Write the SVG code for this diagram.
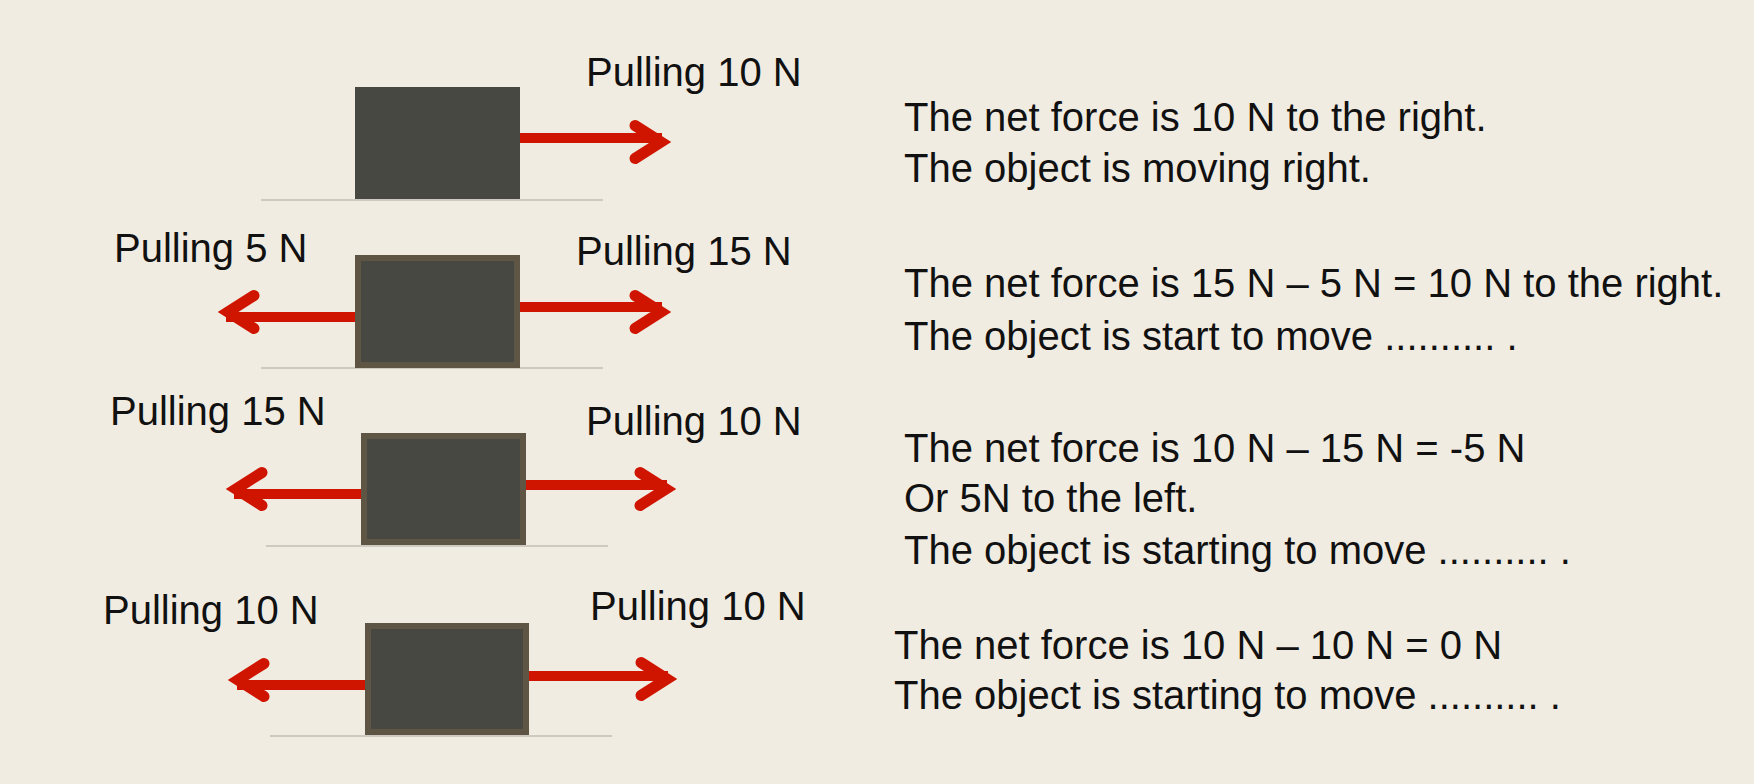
<svg xmlns="http://www.w3.org/2000/svg" width="1754" height="784" viewBox="0 0 1754 784">
<style>
.bg{fill:#f1ece2}
.lbl{font-family:"Liberation Sans",Arial,sans-serif;font-size:40px;fill:#111111}
.box{fill:#484843;stroke:#5e5545;stroke-width:6}
.box0{fill:#484843}
.ground{stroke:#cfcac1;stroke-width:2}
.shaft{stroke:#cf1500;stroke-width:10;fill:none}
.head{stroke:#cf1500;stroke-width:11;fill:none;stroke-linecap:round;stroke-linejoin:miter}
</style>
<defs>
<path id="hr" d="M-37,-16.5 L-11,0 L-37,16.5"/>
<path id="hl" d="M37,-16.5 L11,0 L37,16.5"/>
</defs>
<rect class="bg" x="0" y="0" width="1754" height="784"/>

<g id="grounds">
<line class="ground" x1="261" y1="200" x2="603" y2="200"/>
<line class="ground" x1="261" y1="368" x2="603" y2="368"/>
<line class="ground" x1="266" y1="546" x2="608" y2="546"/>
<line class="ground" x1="270" y1="736" x2="612" y2="736"/>
</g>

<g id="connectors">
<line class="shaft" x1="520" y1="138" x2="662" y2="138"/>
<use href="#hr" class="head" transform="translate(672,142)"/>

<line class="shaft" x1="520" y1="307" x2="662" y2="307"/>
<use href="#hr" class="head" transform="translate(672,312)"/>
<line class="shaft" x1="355" y1="317" x2="226" y2="317"/>
<use href="#hl" class="head" transform="translate(217,312)"/>

<line class="shaft" x1="526" y1="485" x2="667" y2="485"/>
<use href="#hr" class="head" transform="translate(677,489)"/>
<line class="shaft" x1="361" y1="494" x2="234" y2="494"/>
<use href="#hl" class="head" transform="translate(225,489)"/>

<line class="shaft" x1="529" y1="676" x2="668" y2="676"/>
<use href="#hr" class="head" transform="translate(678,679)"/>
<line class="shaft" x1="365" y1="685" x2="237" y2="685"/>
<use href="#hl" class="head" transform="translate(227,680)"/>
</g>

<g id="box1"><rect class="box0" x="355" y="87" width="165" height="112"/></g>
<g id="box2"><rect class="box" x="358" y="258" width="159" height="107"/></g>
<g id="box3"><rect class="box" x="364" y="436" width="159" height="106"/></g>
<g id="box4"><rect class="box" x="368" y="626" width="158" height="106"/></g>

<g id="labels">
<text class="lbl" x="586" y="86">Pulling 10 N</text>
<text class="lbl" x="114" y="262">Pulling 5 N</text>
<text class="lbl" x="576" y="265">Pulling 15 N</text>
<text class="lbl" x="110" y="425">Pulling 15 N</text>
<text class="lbl" x="586" y="435">Pulling 10 N</text>
<text class="lbl" x="103" y="624">Pulling 10 N</text>
<text class="lbl" x="590" y="620">Pulling 10 N</text>
</g>

<g id="explanations">
<text class="lbl" x="904" y="131">The net force is 10 N to the right.</text>
<text class="lbl" x="904" y="182">The object is moving right.</text>
<text class="lbl" x="904" y="297">The net force is 15 N – 5 N = 10 N to the right.</text>
<text class="lbl" x="904" y="350">The object is start to move .......... .</text>
<text class="lbl" x="904" y="462">The net force is 10 N – 15 N = -5 N</text>
<text class="lbl" x="904" y="512">Or 5N to the left.</text>
<text class="lbl" x="904" y="564">The object is starting to move .......... .</text>
<text class="lbl" x="894" y="659">The net force is 10 N – 10 N = 0 N</text>
<text class="lbl" x="894" y="709">The object is starting to move .......... .</text>
</g>
</svg>
